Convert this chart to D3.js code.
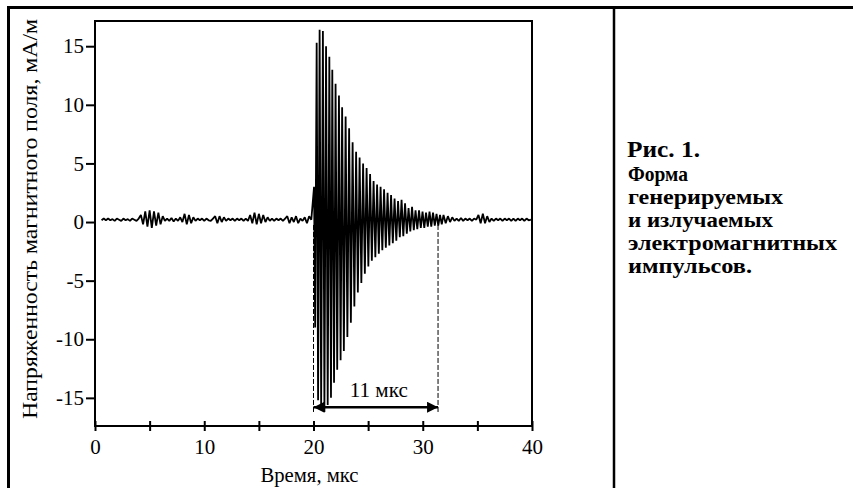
<!DOCTYPE html>
<html>
<head>
<meta charset="utf-8">
<script src="https://cdn.jsdelivr.net/npm/d3@7"></script>
<style>
  body { margin: 0; background: #fff; }
  svg { display: block; }
  svg text { font-family: 'Liberation Serif', 'Times New Roman', Times, serif !important; fill: #000; }
</style>
</head>
<body>
<div class="chart"></div>
<script>
// ---- data ----
const xTicks = [0, 5, 10, 15, 20, 25, 30, 35, 40];
const xLabels = ['0', '', '10', '', '20', '', '30', '', '40'];
const yTicks = [-15, -10, -5, 0, 5, 10, 15];
const yLabels = ['-15', '-10', '-5', '0', '5', '10', '15'];

// baseline noise before the pulse, sampled every 0.2 us from 0.6 us
const preStart = 0.6;
const noiseStep = 0.2;
const preNoise = [
  0.15, 0.3, 0.15, 0.3, 0.15, 0.25, 0.1, 0.3, 0.2, 0.1, 0.3, 0.15, 0.25, 0.1, 0.3, 0.2, 0.1, 0.3,
  0.6, -0.2, 0.9, -0.4, 1.0, -0.5, 0.9, -0.3, 0.8, -0.2, 0.5,
  0.1, 0.3, 0.1, 0.35, 0.05, 0.3, 0.1, 0.4, 0.0,
  0.7, -0.2, 0.6, -0.1, 0.4,
  0.1, 0.3, 0.15, 0.3, 0.1, 0.3, 0.15, 0.1, 0.3,
  0.5, -0.1, 0.5, 0.0, 0.4, 0.1,
  0.3, 0.15, 0.3, 0.1, 0.3, 0.15, 0.3, 0.1, 0.3, 0.1,
  0.6, -0.1, 0.8, -0.2, 0.7, -0.1, 0.6, 0.0, 0.4,
  0.1, 0.3, 0.1, 0.3, 0.15, 0.3, 0.1, 0.3,
  0.5, -0.1, 0.4, 0.0, 0.5, -0.1, 0.3, 0.1, 0.4, -0.1, 0.5, 0.2
];

// extrema of the pulse oscillation (time, us / field, mA/m)
const pulseT = [
  20.05, 20.15, 20.29, 20.42, 20.56, 20.70, 20.86, 21.00, 21.15, 21.30,
  21.45, 21.60, 21.72, 21.88, 22.02, 22.17, 22.33, 22.48, 22.62, 22.78,
  22.94, 23.10, 23.26, 23.42, 23.58, 23.74, 23.90, 24.06, 24.22, 24.38,
  24.54, 24.70, 24.86, 25.02, 25.18, 25.34, 25.50, 25.66, 25.82, 25.98,
  26.14, 26.30, 26.46, 26.62, 26.78, 26.94, 27.10, 27.26, 27.42, 27.58,
  27.74, 27.90, 28.06, 28.22, 28.38, 28.54, 28.70, 28.86, 29.02, 29.18,
  29.34, 29.50, 29.66, 29.82, 29.98, 30.14, 30.30, 30.46, 30.62, 30.78,
  30.94, 31.10, 31.26, 31.42, 31.58, 31.74
];
const pulseV = [
  3.0, -9.0, 15.3, -15.2, 16.4, -15.6, 16.3, -16.2, 15.0, -15.6,
  14.1, -15.0, 13.0, -13.7, 11.8, -12.6, 10.8, -11.8, 9.8, -11.0,
  9.0, -9.8, 8.0, -8.6, 6.8, -7.2, 6.0, -6.0, 5.5, -5.2,
  5.0, -4.4, 4.6, -3.8, 4.1, -3.3, 3.5, -3.0, 3.2, -2.7,
  3.0, -2.4, 2.8, -2.2, 2.5, -2.0, 2.3, -1.8, 2.0, -1.6,
  1.8, -1.3, 1.9, -1.2, 1.6, -1.0, 1.2, -0.8, 1.3, -0.7,
  1.0, -0.6, 1.0, -0.5, 0.9, -0.5, 0.8, -0.4, 0.9, -0.4,
  0.8, -0.3, 0.7, -0.3, 0.6, -0.2
];

// noise after the pulse, sampled every 0.2 us from 31.9 us
const postStart = 31.9;
const postNoise = [
  0.6, -0.1, 0.5, 0.0, 0.4, 0.1, 0.3, 0.1, 0.35, 0.1,
  0.3, 0.15, 0.3, 0.1, 0.3, 0.2,
  0.6, -0.1, 0.7, -0.1, 0.5, 0.0,
  0.3, 0.1, 0.3, 0.15, 0.3, 0.1, 0.3, 0.15, 0.3, 0.1,
  0.3, 0.1, 0.3, 0.15, 0.3, 0.1, 0.3, 0.15, 0.2
];

// duration marker
const spanT = [20.0, 31.4];
const spanV = -15.8;
const spanLabel = '11 мкс';

const xTitle = 'Время, мкс';
const yTitle = 'Напряженность магнитного поля, мА/м';
const figNo = 'Рис. 1.';
const caption = ['Форма', 'генерируемых', 'и излучаемых', 'электромагнитных', 'импульсов.'];

// ---- drawing ----
const w = 853;
const h = 488;
const mLeft = 95, mRight = 532, mTop = 21, mBottom = 426;

const svg = d3.select('.chart').append('svg').attr('width', w).attr('height', h);

const x = d3.scaleLinear().domain([0, 40]).range([mLeft, mRight]);
const y = d3.scaleLinear().domain([-17.4, 17.15]).range([mBottom, mTop]);

// outer page frame
svg.append('line').attr('x1', 7).attr('x2', w).attr('y1', 7.5).attr('y2', 7.5)
  .attr('stroke', '#000').attr('stroke-width', 3);
svg.append('line').attr('x1', 8.5).attr('x2', 8.5).attr('y1', 6).attr('y2', h)
  .attr('stroke', '#000').attr('stroke-width', 3);
svg.append('line').attr('x1', 614).attr('x2', 614).attr('y1', 6).attr('y2', h)
  .attr('stroke', '#000').attr('stroke-width', 2.5);

// signal
const points = [];
preNoise.forEach((v, i) => points.push([preStart + i * noiseStep, v]));
pulseT.forEach((t, i) => points.push([t, pulseV[i]]));
postNoise.forEach((v, i) => points.push([postStart + i * noiseStep, v]));

const line = d3.line().x(d => x(d[0])).y(d => y(d[1]));
svg.append('path').datum(points).attr('d', line)
  .attr('fill', 'none').attr('stroke', '#000').attr('stroke-width', 1.8)
  .attr('stroke-linejoin', 'bevel');

// plot frame
svg.append('rect').attr('x', mLeft).attr('y', mTop).attr('width', mRight - mLeft).attr('height', mBottom - mTop)
  .attr('fill', 'none').attr('stroke', '#000').attr('stroke-width', 2);

// axes
const yAxis = svg.append('g').attr('transform', `translate(${mLeft},0)`)
  .call(d3.axisLeft(y).tickValues(yTicks).tickSize(9).tickPadding(2)
    .tickFormat((d, i) => yLabels[i]));
yAxis.select('.domain').remove();
yAxis.selectAll('line').attr('stroke-width', 2);
yAxis.selectAll('text').attr('font-size', 21);

const xAxis = svg.append('g').attr('transform', `translate(0,${mBottom})`)
  .call(d3.axisBottom(x).tickValues(xTicks).tickSize(5)
    .tickFormat((d, i) => xLabels[i]));
xAxis.select('.domain').remove();
xAxis.selectAll('line').attr('y1', -5).attr('y2', 5).attr('stroke-width', 2);
xAxis.selectAll('text').attr('y', 13).attr('font-size', 21);

// axis titles
svg.append('text').attr('x', (mLeft + mRight) / 2 - 4).attr('y', 482)
  .attr('text-anchor', 'middle').attr('font-size', 20)
  .attr('textLength', 98).attr('lengthAdjust', 'spacingAndGlyphs').text(xTitle);
svg.append('text').attr('transform', `translate(37,${(18 + 420) / 2}) rotate(-90)`)
  .attr('text-anchor', 'middle').attr('font-size', 21)
  .attr('textLength', 400).attr('lengthAdjust', 'spacingAndGlyphs').text(yTitle);

// duration marker
svg.append('defs').append('marker').attr('id', 'arr')
  .attr('viewBox', '0 0 10 10').attr('refX', 10).attr('refY', 5)
  .attr('markerWidth', 5.5).attr('markerHeight', 4.4).attr('markerUnits', 'strokeWidth')
  .attr('orient', 'auto-start-reverse')
  .append('path').attr('d', 'M0,0 L10,5 L0,10 z').attr('fill', '#000');

spanT.forEach(t => {
  svg.append('line').attr('x1', x(t)).attr('x2', x(t)).attr('y1', y(-0.25)).attr('y2', y(-16.3))
    .attr('stroke', '#000').attr('stroke-width', 1).attr('stroke-dasharray', '5,2');
});
svg.append('line').attr('x1', x(spanT[0])).attr('x2', x(spanT[1])).attr('y1', y(spanV)).attr('y2', y(spanV))
  .attr('stroke', '#000').attr('stroke-width', 2.5)
  .attr('marker-start', 'url(#arr)').attr('marker-end', 'url(#arr)');
svg.append('text').attr('x', (x(spanT[0]) + x(spanT[1])) / 2 + 3).attr('y', y(spanV) - 10)
  .attr('text-anchor', 'middle').attr('font-size', 20)
  .attr('textLength', 58).attr('lengthAdjust', 'spacingAndGlyphs').text(spanLabel);

// caption on the right
svg.append('text').attr('x', 627).attr('y', 157).attr('font-size', 23).attr('font-weight', 'bold')
  .attr('textLength', 73).attr('lengthAdjust', 'spacingAndGlyphs').text(figNo);
const capLen = [60, 155, 145, 209, 124];
caption.forEach((s, i) => {
  svg.append('text').attr('x', 628).attr('y', 181 + i * 23)
    .attr('font-size', 22).attr('font-weight', 'bold')
    .attr('textLength', capLen[i]).attr('lengthAdjust', 'spacingAndGlyphs').text(s);
});
</script>
</body>
</html>
